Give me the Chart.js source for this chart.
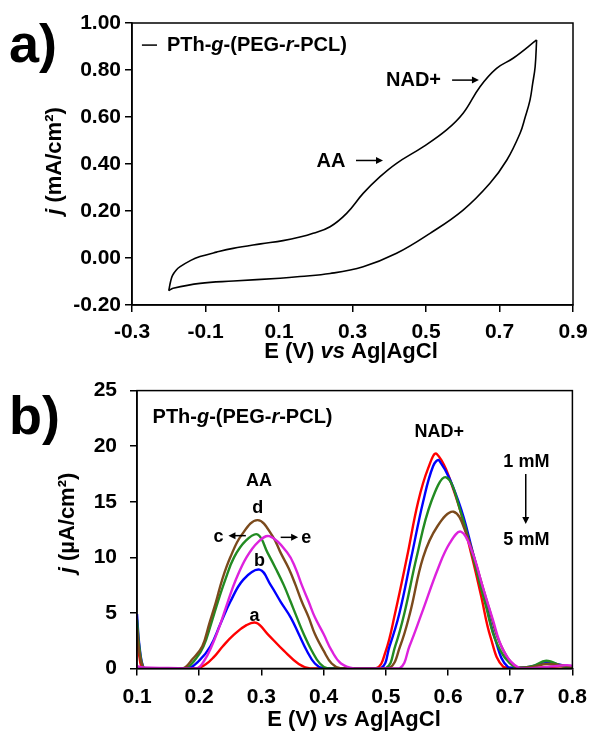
<!DOCTYPE html>
<html lang="en">
<head>
  <meta charset="UTF-8" />
  <title>PTh-g-(PEG-r-PCL): CV and DPV</title>
  <script src="https://cdn.jsdelivr.net/npm/chart.js"></script>
  <style>
    body { margin: 0; background: #fff; }
    .panel { position: absolute; left: 0; width: 596px; }
    #cvPanel { top: 0; height: 365px; }
    #dpvPanel { top: 365px; height: 368px; }
  </style>
</head>
<body>
  <div class="panel" id="cvPanel"><canvas id="cvChart" width="596" height="365"></canvas></div>
  <div class="panel" id="dpvPanel"><canvas id="dpvChart" width="596" height="368"></canvas></div>

  <script>
    // a) cyclic voltammogram: anodic sweep, then the return sweep (both sorted by E)
    const cvForwardE = [-0.200, -0.195, -0.190, -0.180, -0.169, -0.140, -0.115, -0.070, -0.025, 0.050, 0.111, 0.157, 0.193, 0.239, 0.284, 0.329, 0.375, 0.420, 0.493, 0.556, 0.601, 0.647, 0.692, 0.737, 0.801];
    const cvForwardJ = [-0.139, -0.100, -0.075, -0.052, -0.037, -0.010, 0.006, 0.025, 0.041, 0.060, 0.074, 0.089, 0.105, 0.133, 0.190, 0.275, 0.346, 0.403, 0.474, 0.545, 0.616, 0.729, 0.807, 0.850, 0.928];
    const cvReverseE = [-0.200, -0.188, -0.115, -0.024, 0.103, 0.157, 0.239, 0.329, 0.420, 0.511, 0.601, 0.674, 0.720, 0.756, 0.770, 0.783, 0.790, 0.797, 0.801];
    const cvReverseJ = [-0.139, -0.129, -0.108, -0.098, -0.086, -0.079, -0.066, -0.037, 0.020, 0.105, 0.204, 0.318, 0.417, 0.531, 0.600, 0.672, 0.740, 0.814, 0.928];
    const cvTicksX = [-0.3, -0.1, 0.1, 0.3, 0.5, 0.7, 0.9];
    const cvTicksY = [-0.2, 0, 0.2, 0.4, 0.6, 0.8, 1.0];

    // b) DPV curves, a = 1 mM ... e = 5 mM
    const curveLabels = ['a', 'b', 'c', 'd', 'e'];
    const curveColors = ['#ff0000', '#0000ff', '#228b22', '#7b4a1c', '#dd22dd'];

    const aE = [0.100, 0.104, 0.109, 0.120, 0.196, 0.210, 0.223, 0.238, 0.255, 0.276, 0.292, 0.310, 0.336, 0.360, 0.378, 0.420, 0.484, 0.4995, 0.515, 0.534, 0.552, 0.568, 0.582, 0.613, 0.637, 0.653, 0.6685, 0.689, 0.720, 0.750, 0.780, 0.800];
    const aJ = [2.8, 1.0, 0.0, 0.0, 0.0, 0.35, 1.0, 2.0, 3.0, 3.9, 4.1, 3.1, 1.6, 0.4, 0.0, 0.0, 0.0, 1.5, 5.0, 10.0, 15.0, 18.0, 19.3, 15.4, 10.4, 6.6, 2.8, 0.15, 0.05, 0.1, 0.2, 0.1];

    const bE = [0.100, 0.104, 0.111, 0.120, 0.181, 0.200, 0.218, 0.234, 0.250, 0.271, 0.297, 0.315, 0.331, 0.347, 0.360, 0.373, 0.386, 0.400, 0.440, 0.4916, 0.506, 0.522, 0.541, 0.560, 0.576, 0.586, 0.617, 0.642, 0.658, 0.675, 0.697, 0.730, 0.760, 0.800];
    const bJ = [4.9, 2.0, 0.0, 0.0, 0.0, 0.7, 2.0, 4.0, 6.0, 8.0, 8.9, 7.5, 6.0, 4.6, 3.1, 1.6, 0.45, 0.0, 0.0, 0.0, 2.0, 5.0, 10.0, 15.0, 18.2, 18.7, 15.0, 10.0, 6.6, 2.8, 0.1, 0.15, 0.5, 0.1];

    const cE = [0.100, 0.104, 0.111, 0.120, 0.177, 0.195, 0.207, 0.219, 0.230, 0.242, 0.256, 0.275, 0.294, 0.310, 0.323, 0.336, 0.347, 0.357, 0.368, 0.381, 0.394, 0.407, 0.450, 0.4995, 0.515, 0.530, 0.5495, 0.573, 0.597, 0.621, 0.642, 0.6606, 0.679, 0.708, 0.735, 0.758, 0.785, 0.800];
    const cJ = [4.4, 1.8, 0.0, 0.0, 0.0, 0.9, 2.0, 4.0, 6.0, 8.0, 10.0, 11.5, 12.05, 10.4, 9.0, 7.5, 6.0, 4.6, 3.1, 1.6, 0.45, 0.0, 0.0, 0.0, 2.0, 5.0, 10.0, 15.0, 17.2, 14.0, 9.6, 5.7, 2.2, 0.1, 0.2, 0.7, 0.2, 0.1];

    const dE = [0.100, 0.104, 0.111, 0.120, 0.173, 0.190, 0.205, 0.216, 0.227, 0.237, 0.250, 0.268, 0.294, 0.318, 0.331, 0.344, 0.355, 0.365, 0.376, 0.386, 0.400, 0.413, 0.428, 0.460, 0.505, 0.523, 0.539, 0.560, 0.583, 0.609, 0.629, 0.647, 0.666, 0.684, 0.7105, 0.735, 0.760, 0.800];
    const dJ = [3.6, 1.4, 0.0, 0.0, 0.0, 0.9, 2.0, 4.0, 6.0, 8.0, 10.0, 12.0, 13.35, 11.9, 10.4, 9.0, 7.5, 6.0, 4.6, 3.1, 1.6, 0.45, 0.0, 0.0, 0.0, 2.0, 5.0, 10.0, 12.8, 14.1, 12.2, 9.0, 5.4, 2.2, 0.1, 0.15, 0.4, 0.15];

    const eE = [0.100, 0.110, 0.150, 0.196, 0.208, 0.220, 0.234, 0.246, 0.259, 0.276, 0.295, 0.313, 0.342, 0.355, 0.365, 0.376, 0.386, 0.400, 0.413, 0.428, 0.449, 0.480, 0.522, 0.538, 0.558, 0.584, 0.603, 0.621, 0.6395, 0.655, 0.671, 0.6895, 0.716, 0.750, 0.790, 0.800];
    const eJ = [0.2, 0.1, 0.05, 0.0, 0.7, 2.0, 4.0, 6.0, 8.0, 10.0, 11.4, 11.9, 10.4, 9.0, 7.5, 6.0, 4.6, 3.1, 1.6, 0.45, 0.0, 0.0, 0.0, 2.0, 5.0, 9.0, 11.3, 12.3, 10.4, 7.5, 4.6, 1.6, 0.0, 0.1, 0.3, 0.25];

    const dpvE = [aE, bE, cE, dE, eE];
    const dpvJ = [aJ, bJ, cJ, dJ, eJ];
    const dpvTicksX = [0.1, 0.2, 0.3, 0.4, 0.5, 0.6, 0.7, 0.8];
    const dpvTicksY = [0, 5, 10, 15, 20, 25];

    const FONT = '"Liberation Sans", Arial, sans-serif';
    const toPoints = (xs, ys) => xs.map((x, i) => ({ x: x, y: ys[i] }));

    // text made of runs, [text, italic]
    function fontFor(size, italic) {
      return (italic ? 'italic ' : '') + 'bold ' + size + 'px ' + FONT;
    }
    function drawRuns(ctx, runs, x, y, size, align) {
      let w = 0;
      runs.forEach(r => { ctx.font = fontFor(size, r[1]); w += ctx.measureText(r[0]).width; });
      let cx = align === 'center' ? x - w / 2 : (align === 'right' ? x - w : x);
      ctx.textAlign = 'left';
      ctx.textBaseline = 'middle';
      ctx.fillStyle = '#000';
      runs.forEach(r => {
        ctx.font = fontFor(size, r[1]);
        ctx.fillText(r[0], cx, y);
        cx += ctx.measureText(r[0]).width;
      });
    }
    function arrow(ctx, x1, y1, x2, y2) {
      const a = Math.atan2(y2 - y1, x2 - x1);
      const head = 7;
      ctx.save();
      ctx.strokeStyle = '#000';
      ctx.fillStyle = '#000';
      ctx.lineWidth = 1.5;
      ctx.beginPath();
      ctx.moveTo(x1, y1);
      ctx.lineTo(x2 - Math.cos(a) * head * 0.8, y2 - Math.sin(a) * head * 0.8);
      ctx.stroke();
      ctx.beginPath();
      ctx.moveTo(x2, y2);
      ctx.lineTo(x2 - head * Math.cos(a) + 3.5 * Math.sin(a), y2 - head * Math.sin(a) - 3.5 * Math.cos(a));
      ctx.lineTo(x2 - head * Math.cos(a) - 3.5 * Math.sin(a), y2 - head * Math.sin(a) + 3.5 * Math.cos(a));
      ctx.closePath();
      ctx.fill();
      ctx.restore();
    }
    function frame(chart) {
      const ca = chart.chartArea, ctx = chart.ctx;
      ctx.save();
      ctx.strokeStyle = '#000';
      ctx.lineWidth = 1.5;
      ctx.strokeRect(ca.left, ca.top, ca.right - ca.left, ca.bottom - ca.top);
      ctx.restore();
    }
    function rotatedRuns(ctx, runs, x, y, size) {
      ctx.save();
      ctx.translate(x, y);
      ctx.rotate(-Math.PI / 2);
      drawRuns(ctx, runs, 0, 0, size, 'center');
      ctx.restore();
    }

    const polymerRuns = [['PTh-', false], ['g', true], ['-(PEG-', false], ['r', true], ['-PCL)', false]];
    const xTitleRuns = [['E (V) ', false], ['vs', true], [' Ag|AgCl', false]];

    function axisCommon(ticksList, fmt, pad) {
      return {
        type: 'linear',
        min: ticksList[0],
        max: ticksList[ticksList.length - 1],
        afterBuildTicks: s => { s.ticks = ticksList.map(v => ({ value: v })); },
        ticks: {
          callback: fmt,
          padding: pad,
          color: '#000',
          maxRotation: 0,
          autoSkip: false,
          font: { family: FONT, size: 21, weight: 'bold' }
        },
        grid: { drawOnChartArea: false, tickLength: 7, color: '#000', lineWidth: 1.5 },
        border: { color: '#000', width: 1.5 }
      };
    }

    const cvDecor = {
      id: 'cvDecor',
      afterDraw(chart) {
        const ctx = chart.ctx, x = chart.scales.x, y = chart.scales.y;
        frame(chart);
        ctx.save();
        ctx.font = 'bold 54px ' + FONT;
        ctx.fillStyle = '#000';
        ctx.textBaseline = 'middle';
        ctx.fillText('a)', 9, 47);
        rotatedRuns(ctx, [['j', true], [' (mA/cm²)', false]], 55, 161, 22);
        drawRuns(ctx, xTitleRuns, 351, 352, 22, 'center');

        // legend entry
        ctx.strokeStyle = '#000';
        ctx.lineWidth = 1.5;
        ctx.beginPath();
        ctx.moveTo(x.getPixelForValue(-0.273), y.getPixelForValue(0.906));
        ctx.lineTo(x.getPixelForValue(-0.232), y.getPixelForValue(0.906));
        ctx.stroke();
        drawRuns(ctx, polymerRuns, x.getPixelForValue(-0.205), y.getPixelForValue(0.906), 20, 'left');

        // peak markers
        drawRuns(ctx, [['NAD+', false]], x.getPixelForValue(0.466), y.getPixelForValue(0.757), 20, 'center');
        arrow(ctx, x.getPixelForValue(0.571), y.getPixelForValue(0.757), x.getPixelForValue(0.644), y.getPixelForValue(0.757));
        drawRuns(ctx, [['AA', false]], x.getPixelForValue(0.2415), y.getPixelForValue(0.409), 20, 'center');
        arrow(ctx, x.getPixelForValue(0.3095), y.getPixelForValue(0.415), x.getPixelForValue(0.383), y.getPixelForValue(0.415));
        ctx.restore();
      }
    };

    new Chart(document.getElementById('cvChart'), {
      type: 'line',
      data: {
        datasets: [
          { label: 'forward', data: toPoints(cvForwardE, cvForwardJ) },
          { label: 'reverse', data: toPoints(cvReverseE, cvReverseJ) }
        ].map(d => Object.assign(d, {
          borderColor: '#000', borderWidth: 1.6, pointRadius: 0,
          tension: 0.4, fill: false
        }))
      },
      options: {
        responsive: false,
        animation: false,
        layout: { padding: { top: 23, right: 23, left: 0, bottom: 0 } },
        plugins: { legend: { display: false }, tooltip: { enabled: false } },
        scales: {
          x: Object.assign(axisCommon(cvTicksX, v => v.toFixed(1), 8), { afterFit: s => { s.height = 60; } }),
          y: Object.assign(axisCommon(cvTicksY, v => v.toFixed(2), 4), { afterFit: s => { s.width = 132; } })
        }
      },
      plugins: [cvDecor]
    });

    const dpvDecor = {
      id: 'dpvDecor',
      afterDraw(chart) {
        const ctx = chart.ctx, x = chart.scales.x, y = chart.scales.y;
        const px = v => x.getPixelForValue(v), py = v => y.getPixelForValue(v);
        frame(chart);
        ctx.save();
        ctx.font = 'bold 54px ' + FONT;
        ctx.fillStyle = '#000';
        ctx.textBaseline = 'middle';
        ctx.fillText('b)', 9, 54);
        rotatedRuns(ctx, [['j', true], [' (µA/cm²)', false]], 68, 158, 22);
        drawRuns(ctx, xTitleRuns, 354, 355, 22, 'center');

        drawRuns(ctx, polymerRuns, px(0.125), py(22.6), 20, 'left');
        drawRuns(ctx, [['NAD+', false]], px(0.586), py(21.3), 18, 'center');
        drawRuns(ctx, [['1 mM', false]], px(0.726), py(18.6), 18, 'center');
        drawRuns(ctx, [['5 mM', false]], px(0.726), py(11.6), 18, 'center');
        arrow(ctx, px(0.725), py(17.5), px(0.725), py(13.0));

        drawRuns(ctx, [['AA', false]], px(0.296), py(16.9), 18, 'center');
        drawRuns(ctx, [['d', false]], px(0.294), py(14.4), 18, 'center');
        drawRuns(ctx, [['c', false]], px(0.231), py(11.85), 18, 'center');
        arrow(ctx, px(0.275), py(11.95), px(0.247), py(11.95));
        arrow(ctx, px(0.331), py(11.8), px(0.359), py(11.8));
        drawRuns(ctx, [['e', false]], px(0.372), py(11.75), 18, 'center');
        drawRuns(ctx, [['b', false]], px(0.297), py(9.7), 18, 'center');
        drawRuns(ctx, [['a', false]], px(0.289), py(4.7), 18, 'center');
        ctx.restore();
      }
    };

    new Chart(document.getElementById('dpvChart'), {
      type: 'line',
      data: {
        datasets: curveLabels.map((lab, i) => ({
          label: lab,
          data: toPoints(dpvE[i], dpvJ[i]),
          borderColor: curveColors[i],
          borderWidth: 2.4,
          pointRadius: 0,
          tension: 0.4,
          fill: false,
          order: 5 - i
        }))
      },
      options: {
        responsive: false,
        animation: false,
        layout: { padding: { top: 20, right: 15, left: 0, bottom: 0 } },
        plugins: { legend: { display: false }, tooltip: { enabled: false } },
        scales: {
          x: Object.assign(axisCommon(dpvTicksX, v => v.toFixed(1), 9), { afterFit: s => { s.height = 64.5; } }),
          y: Object.assign(axisCommon(dpvTicksY, v => String(v), 13), { afterFit: s => { s.width = 137; } })
        }
      },
      plugins: [dpvDecor]
    });
  </script>
</body>
</html>
